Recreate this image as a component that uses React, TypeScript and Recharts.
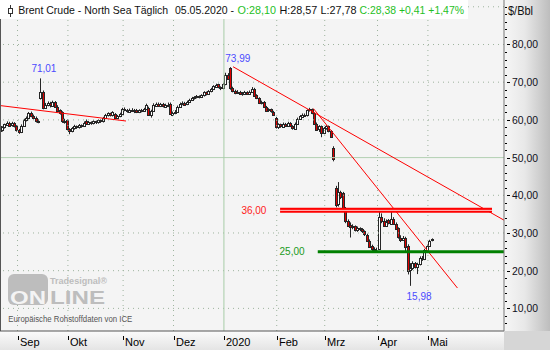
import React from 'react';
import { ComposedChart, Bar, XAxis, YAxis, ReferenceLine, ReferenceDot } from 'recharts';

// Daily candles [open, high, low, close], Brent Crude, Aug 2019 – May 2020
const aug = [
  [58.5, 58.9, 57.0, 57.3], [57.3, 58.3, 56.9, 58.0], [58.0, 59.0, 57.7, 58.8], [58.8, 59.6, 58.4, 59.3],
  [59.3, 59.5, 58.3, 58.6], [58.6, 59.5, 58.2, 59.2], [59.2, 59.4, 58.0, 58.3],
];
const sep = [
  [58.3, 58.6, 56.9, 57.2], [57.2, 57.6, 56.3, 56.8], [56.8, 58.8, 56.5, 58.5], [58.5, 60.3, 58.2, 60.0],
  [60.0, 60.9, 59.6, 60.5], [60.5, 62.1, 60.2, 61.8], [61.8, 62.2, 60.7, 61.0], [61.0, 61.4, 60.1, 60.6],
  [60.6, 60.9, 59.3, 59.8], [59.8, 60.2, 59.1, 59.5], [65.8, 71.01, 65.4, 67.5], [67.4, 67.8, 62.8, 63.2],
  [63.2, 64.5, 62.9, 64.0], [64.0, 64.9, 63.6, 64.4], [64.4, 64.8, 63.3, 63.8], [63.8, 65.1, 63.5, 64.8],
  [64.8, 65.0, 63.2, 63.5], [63.5, 63.9, 62.2, 62.5], [62.5, 62.8, 61.4, 61.8], [62.0, 62.3, 59.2, 59.5],
  [59.5, 60.3, 59.0, 59.8],
];
const okt = [
  [59.9, 60.1, 57.2, 57.5], [57.5, 57.8, 56.2, 57.0], [57.0, 58.1, 56.7, 57.8], [57.8, 58.7, 57.4, 58.3],
  [58.3, 58.5, 57.6, 58.0], [58.0, 58.9, 57.7, 58.6], [58.6, 58.8, 57.9, 58.4], [58.4, 59.6, 58.1, 59.2],
  [59.8, 60.1, 58.7, 59.0], [59.0, 59.7, 58.7, 59.4], [59.4, 59.6, 58.7, 59.1], [59.1, 59.9, 58.8, 59.6],
  [59.6, 59.8, 58.9, 59.3], [59.3, 60.2, 59.0, 59.9], [59.9, 60.1, 59.2, 59.6], [59.6, 60.8, 59.3, 60.5],
  [60.5, 61.6, 60.2, 61.3], [61.3, 62.0, 60.9, 61.7], [61.7, 61.9, 60.9, 61.2], [61.2, 62.3, 60.9, 62.0],
  [61.6, 61.8, 60.3, 60.6], [60.6, 61.3, 60.2, 61.0], [61.0, 61.9, 60.7, 61.6],
];
const nov = [
  [61.6, 63.2, 61.4, 62.9], [62.9, 63.3, 62.3, 62.6], [62.6, 62.9, 61.9, 62.3], [62.3, 63.0, 62.0, 62.7],
  [62.7, 63.1, 62.1, 62.4], [62.4, 62.9, 61.8, 62.6], [62.6, 62.9, 61.8, 62.1], [62.1, 62.8, 61.8, 62.5],
  [62.5, 62.9, 62.0, 62.4], [62.4, 63.2, 62.1, 62.9], [62.9, 64.3, 62.6, 64.0], [63.2, 63.5, 61.1, 61.4],
  [61.4, 62.7, 60.6, 62.4], [62.4, 64.4, 62.1, 63.9], [63.9, 64.6, 63.5, 64.3], [64.3, 64.6, 63.5, 63.8],
  [63.8, 64.5, 63.4, 64.2], [64.2, 64.5, 63.3, 63.6], [63.6, 64.3, 63.2, 64.0], [64.0, 64.6, 63.4, 63.7],
  [64.3, 64.6, 61.3, 61.6],
];
const dez = [
  [61.3, 62.2, 61.0, 61.9], [61.9, 62.6, 61.5, 62.2], [62.2, 63.8, 61.9, 63.5], [63.5, 64.6, 63.2, 64.3],
  [64.3, 64.9, 63.9, 64.6], [64.6, 64.8, 63.8, 64.2], [64.2, 65.1, 63.9, 64.8], [64.8, 65.6, 64.5, 65.3],
  [65.3, 66.1, 65.0, 65.8], [65.8, 66.3, 65.4, 66.0], [66.0, 66.6, 65.7, 66.3], [66.3, 66.5, 65.7, 66.1],
  [66.1, 66.8, 65.8, 66.5], [66.5, 67.6, 66.2, 67.3], [67.3, 67.5, 66.5, 66.9], [66.9, 67.9, 66.6, 67.6],
  [67.6, 68.5, 67.3, 68.2], [68.2, 69.2, 67.9, 68.9], [68.9, 69.6, 68.5, 69.3], [69.4, 69.6, 68.4, 68.7],
  [68.7, 68.9, 67.9, 68.4],
];
const jan = [
  [68.4, 69.8, 68.1, 69.5], [69.5, 72.5, 69.2, 72.0], [72.0, 72.4, 70.6, 71.0], [73.8, 73.99, 68.0, 68.4],
  [68.4, 68.8, 67.3, 67.6], [67.6, 68.0, 66.8, 67.2], [67.2, 67.9, 66.9, 67.5], [67.5, 67.7, 66.7, 67.0],
  [67.0, 67.4, 66.4, 66.9], [66.9, 67.7, 66.6, 67.4], [67.4, 67.6, 66.7, 67.0], [67.0, 67.8, 66.7, 67.5],
  [67.5, 68.7, 67.2, 68.3], [68.3, 68.5, 66.2, 66.5], [66.5, 66.8, 65.5, 65.8], [65.8, 66.0, 64.2, 64.5],
  [64.5, 65.1, 64.1, 64.8], [64.8, 65.0, 63.2, 63.5], [63.5, 63.7, 62.2, 62.5], [62.5, 63.1, 62.1, 62.8],
  [62.8, 63.0, 61.9, 62.2], [62.2, 62.4, 61.2, 61.5],
];
const feb = [
  [60.5, 60.8, 57.7, 58.0], [58.0, 59.1, 57.6, 58.8], [58.8, 59.0, 57.9, 58.2], [58.2, 59.3, 57.9, 59.0],
  [59.0, 59.2, 58.2, 58.5], [58.5, 59.5, 58.2, 59.2], [59.2, 59.4, 58.1, 58.4], [58.4, 58.6, 57.4, 57.8],
  [57.8, 59.3, 57.5, 59.0], [59.0, 60.6, 58.7, 60.3], [60.3, 61.3, 60.0, 61.0], [61.0, 61.7, 60.7, 61.4],
  [61.4, 61.7, 60.8, 61.2], [61.2, 62.8, 60.9, 62.5], [62.5, 63.2, 62.2, 62.8], [62.8, 63.0, 61.5, 61.8],
  [61.8, 62.0, 58.7, 59.0], [59.0, 59.3, 57.2, 57.5], [57.5, 58.6, 56.8, 58.3], [58.3, 58.5, 55.4, 56.5],
];
const mrz = [
  [56.5, 58.1, 56.2, 57.8], [57.8, 58.6, 57.4, 58.3], [58.3, 58.5, 56.7, 57.0], [57.0, 57.3, 55.2, 55.5],
  [52.5, 53.0, 49.0, 49.5], [42.0, 42.5, 36.8, 37.5], [37.5, 43.5, 37.0, 40.8], [40.8, 41.2, 39.0, 39.5],
  [40.5, 40.9, 36.2, 36.5], [36.5, 36.9, 32.6, 33.0], [33.2, 33.6, 31.6, 32.0], [32.0, 32.8, 28.8, 31.5],
  [31.5, 32.3, 31.0, 31.8], [31.8, 32.0, 30.4, 30.8], [30.8, 31.7, 30.3, 31.2], [31.2, 31.5, 30.5, 31.0],
  [31.0, 31.3, 30.0, 30.4], [30.4, 30.7, 29.2, 29.5], [29.5, 29.8, 27.7, 28.0], [28.0, 28.3, 26.2, 26.5],
  [26.5, 26.9, 25.0, 25.8], [25.8, 26.2, 24.8, 25.6],
];
const apr = [
  [25.6, 26.1, 24.9, 25.3], [25.8, 36.3, 25.5, 34.3], [34.3, 35.2, 32.6, 33.2], [33.2, 33.9, 31.6, 32.0],
  [32.0, 33.6, 31.6, 33.0], [33.4, 33.7, 32.3, 32.6], [32.6, 36.5, 32.2, 33.8], [33.8, 34.2, 32.2, 32.5],
  [32.5, 32.8, 30.8, 31.2], [31.2, 31.5, 28.5, 28.8], [28.8, 29.4, 27.6, 28.2], [28.2, 29.2, 27.9, 28.8],
  [28.8, 29.0, 25.2, 26.5], [26.5, 27.0, 19.0, 20.0], [20.2, 22.0, 15.98, 20.8], [20.8, 22.5, 20.2, 22.0],
  [22.0, 22.3, 20.6, 21.0], [21.0, 22.1, 19.1, 21.8], [21.8, 23.8, 21.4, 23.3], [23.3, 23.9, 22.6, 23.0],
  [23.0, 25.8, 22.8, 25.4],
];
const mai = [
  [25.4, 26.9, 25.0, 26.6], [26.6, 28.2, 26.3, 27.97], [28.10, 28.57, 27.78, 28.38],
];

const monthLabels = ['Sep', 'Okt', 'Nov', 'Dez', '2020', 'Feb', 'Mrz', 'Apr', 'Mai'];
const yTicks = [6, 8, 10, 12, 14, 16, 18, 20, 22, 24, 26, 28, 30, 32, 34, 36, 38, 40, 42, 44, 46, 48, 50,
  52, 54, 56, 58, 60, 62, 64, 66, 68, 70, 72, 74, 76, 78, 80, 82, 84, 86, 88, 90];
const yLabelValues = [10, 20, 30, 40, 50, 60, 70, 80];
const dottedGridY = [10, 20, 30, 40, 60, 70, 80, 90];
const solidGridY = 50;

// annotations
const trendLines = [
  [[-0.3, 63.8], [52.2, 59.7]],
  [[96.8, 74.1], [209.7, 33.4]],
  [[130.3, 63.0], [190.3, 15.4]],
];
const resistance = { value: 36, from: 116.4, to: 204.7, text: '36,00', at: 105.5 };
const support = { value: 25, from: 132.1, to: 209.7, text: '25,00', at: 121.4 };
const extremes = [
  { x: 18, y: 71.01, text: '71,01', position: 'top', offset: 6 },
  { x: 98.8, y: 73.99, text: '73,99', position: 'top', offset: 5 },
  { x: 174.3, y: 15.98, text: '15,98', position: 'bottom', offset: 7 },
];

const months = [aug, sep, okt, nov, dez, jan, feb, mrz, apr, mai];
const data = months.flat().map((r, i) => ({ i, o: r[0], h: r[1], l: r[2], c: r[3] }));
const monthStarts: number[] = [];
{
  let acc = 0;
  months.forEach((m, k) => {
    if (k > 0) monthStarts.push(acc);
    acc += m.length;
  });
}
const yearStart = monthStarts[4];

const FONT = '"Liberation Sans", Arial, sans-serif';

const Candle = (props: any) => {
  const { x, y, width, height, payload } = props;
  if (!payload || !isFinite(x) || !isFinite(y)) return null;
  const top = Math.min(y, y + height);
  const hgt = Math.abs(height);
  const { o, h, l, c } = payload;
  const k = hgt / (h - l || 1);
  const yO = top + (h - o) * k;
  const yC = top + (h - c) * k;
  const cx = Math.round(x + width / 2);
  const up = c >= o;
  const bt = Math.min(yO, yC);
  const bb = Math.max(yO, yC);
  return (
    <g>
      <line x1={cx - 0.5} x2={cx - 0.5} y1={top} y2={top + hgt} stroke="#262626" strokeWidth={1} />
      <rect x={cx - 1.5} y={Math.round(bt) + 0.5} width={2} height={Math.max(1, Math.round(bb - bt))}
        fill={up ? '#ffffff' : '#e00000'} stroke="#262626" strokeWidth={1} />
    </g>
  );
};

const MonthTick = (props: any) => {
  const { x, y, payload } = props;
  const idx = monthStarts.indexOf(payload.value);
  const label = idx >= 0 ? monthLabels[idx] : '';
  const xr = Math.round(x) + 0.5;
  return (
    <g>
      <line x1={xr} x2={xr} y1={y + 5} y2={y + 9} stroke="#000" strokeWidth={1} />
      <text x={xr + 1.5} y={y + 15} fontSize={11} fontFamily={FONT} fill="#000">{label}</text>
    </g>
  );
};

const PriceTick = (props: any) => {
  const { x, y, payload } = props;
  const v = payload.value;
  const yr = Math.round(y) + 0.5;
  if (yLabelValues.includes(v)) {
    return (
      <g>
        <line x1={x + 3} x2={x + 6} y1={yr} y2={yr} stroke="#000" strokeWidth={1} />
        <text x={x + 8} y={y + 4} fontSize={11} fontFamily={FONT} fill="#101020" textLength={26} lengthAdjust="spacingAndGlyphs">
          {v.toFixed(2).replace('.', ',')}
        </text>
      </g>
    );
  }
  return <line x1={x + 1} x2={x + 3} y1={yr} y2={yr} stroke="#000" strokeWidth={1} />;
};

const seg = (p: number[][]) => [{ x: p[0][0], y: p[0][1] }, { x: p[1][0], y: p[1][1] }];

export default function App() {
  return (
    <div style={{ position: 'absolute', left: 0, top: 0, width: 550, height: 350, overflow: 'hidden', fontFamily: FONT }}>
      <div style={{ position: 'absolute', left: 0, top: 0, width: 504, height: 331, background: '#f4f4f4' }} />
      <div style={{ position: 'absolute', left: 504, top: 0, width: 46, height: 331, background: 'linear-gradient(to right, #f6f6f6 0%, #e8e8e8 45%, #bdbdbd 100%)' }} />
      <div style={{ position: 'absolute', left: 0, top: 331, width: 504, height: 19, background: 'linear-gradient(to bottom, #fbfbfb 0%, #e4e4e4 100%)' }} />
      <div style={{ position: 'absolute', left: 504, top: 331, width: 46, height: 19, background: '#d6d6d6' }} />
      <div style={{ position: 'absolute', left: 0, top: 0 }}>
        <ComposedChart width={550} height={350} data={data} margin={{ top: 0, right: 0, bottom: 0, left: 0 }}>
          <XAxis type="number" dataKey="i" domain={[-0.3, 209.7]} ticks={monthStarts} interval={0}
            height={19} tickSize={0} tickMargin={0} tickLine={false} tick={<MonthTick />}
            axisLine={{ stroke: '#555' }} allowDataOverflow />
          <YAxis type="number" orientation="right" width={46} domain={[4, 91.8]} ticks={yTicks} interval={0}
            tickSize={0} tickMargin={0} tickLine={false} tick={<PriceTick />}
            axisLine={{ stroke: '#777' }} allowDataOverflow />
          {dottedGridY.map((v) => (
            <ReferenceLine key={'gy' + v} y={v} stroke="#9db39d" strokeDasharray="1 4" ifOverflow="visible" />
          ))}
          <ReferenceLine y={solidGridY} stroke="#b2d0b2" ifOverflow="visible" />
          {monthStarts.map((m) => (
            m === yearStart
              ? <ReferenceLine key={'gx' + m} x={m} stroke="#a8cca8" ifOverflow="visible" />
              : <ReferenceLine key={'gx' + m} x={m} stroke="#9db39d" strokeDasharray="1 4" ifOverflow="visible" />
          ))}
          <Bar dataKey={(d: any) => [d.l, d.h]} barSize={3} shape={<Candle />} isAnimationActive={false} />
          {trendLines.map((t, k) => (
            <ReferenceLine key={'t' + k} segment={seg(t)} stroke="#ff0000" strokeWidth={1} ifOverflow="visible" />
          ))}
          <ReferenceLine segment={[{ x: resistance.from, y: resistance.value }, { x: resistance.to, y: resistance.value }]}
            stroke="#ff0000" strokeWidth={5} ifOverflow="visible" />
          <ReferenceLine segment={[{ x: resistance.from, y: resistance.value }, { x: resistance.to, y: resistance.value }]}
            stroke="#ffc8c8" strokeWidth={1} ifOverflow="visible" />
          <ReferenceLine segment={[{ x: support.from, y: support.value }, { x: support.to, y: support.value }]}
            stroke="#008000" strokeWidth={3} ifOverflow="visible" />
          <ReferenceDot x={resistance.at} y={resistance.value} r={0} fill="none" stroke="none" ifOverflow="visible"
            label={{ value: resistance.text, position: 'center', fill: '#ff2020', fontSize: 10, fontFamily: FONT }} />
          <ReferenceDot x={support.at} y={support.value} r={0} fill="none" stroke="none" ifOverflow="visible"
            label={{ value: support.text, position: 'center', fill: '#1a9a1a', fontSize: 10, fontFamily: FONT }} />
          {extremes.map((e) => (
            <ReferenceDot key={e.text} x={e.x} y={e.y} r={0} fill="none" stroke="none" ifOverflow="visible"
              label={{ value: e.text, position: e.position as any, offset: e.offset, fill: '#4a4aff', fontSize: 10, fontFamily: FONT }} />
          ))}
        </ComposedChart>
      </div>
      <svg width={550} height={350} style={{ position: 'absolute', left: 0, top: 0, pointerEvents: 'none' }}>
        <line x1={0.5} x2={0.5} y1={0} y2={331} stroke="#555" />
        <rect x={0} y={0} width={468} height={19} fill="#ffffff" />
        <line x1={10.5} x2={10.5} y1={5} y2={17} stroke="#333" />
        <rect x={8.5} y={8.5} width={4} height={5} fill="#fff" stroke="#333" />
        <g fontFamily={FONT} fontSize={10.5}>
          <text x={18.2} y={14} fill="#111" textLength={150} lengthAdjust="spacingAndGlyphs">Brent Crude - North Sea Täglich</text>
          <text x={175} y={14} fill="#111" textLength={59} lengthAdjust="spacingAndGlyphs">05.05.2020 -</text>
          <text x={237.5} y={14} fill="#1fc01f" textLength={38.5} lengthAdjust="spacingAndGlyphs">O:28,10</text>
          <text x={279.5} y={14} fill="#111" textLength={77} lengthAdjust="spacingAndGlyphs">H:28,57 L:27,78</text>
          <text x={359.5} y={14} fill="#1fc01f" textLength={104.5} lengthAdjust="spacingAndGlyphs">C:28,38 +0,41 +1,47%</text>
        </g>
        <text x={508} y={14.5} fontFamily={FONT} fontSize={12} fill="#111" textLength={25} lengthAdjust="spacingAndGlyphs">$/Bbl</text>
        <g>
          <rect x={8} y={274} width={40} height={31} rx={6} fill="#bdbdbd" />
          <text x={10} y={304} fontFamily={FONT} fontWeight="bold" fontSize={19} fill="#f4f4f4" textLength={36} lengthAdjust="spacingAndGlyphs">ON</text>
          <text x={50} y={304} fontFamily={FONT} fontWeight="bold" fontSize={19} fill="#bdbdbd" textLength={55} lengthAdjust="spacingAndGlyphs">LINE</text>
          <text x={50} y={284} fontFamily={FONT} fontWeight="bold" fontSize={9} fill="#bdbdbd" textLength={57} lengthAdjust="spacingAndGlyphs">Tradesignal®</text>
          <text x={8.3} y={322} fontFamily={FONT} fontSize={8.5} fill="#555" textLength={124} lengthAdjust="spacingAndGlyphs">Europäische Rohstoffdaten von ICE</text>
        </g>
      </svg>
    </div>
  );
}
